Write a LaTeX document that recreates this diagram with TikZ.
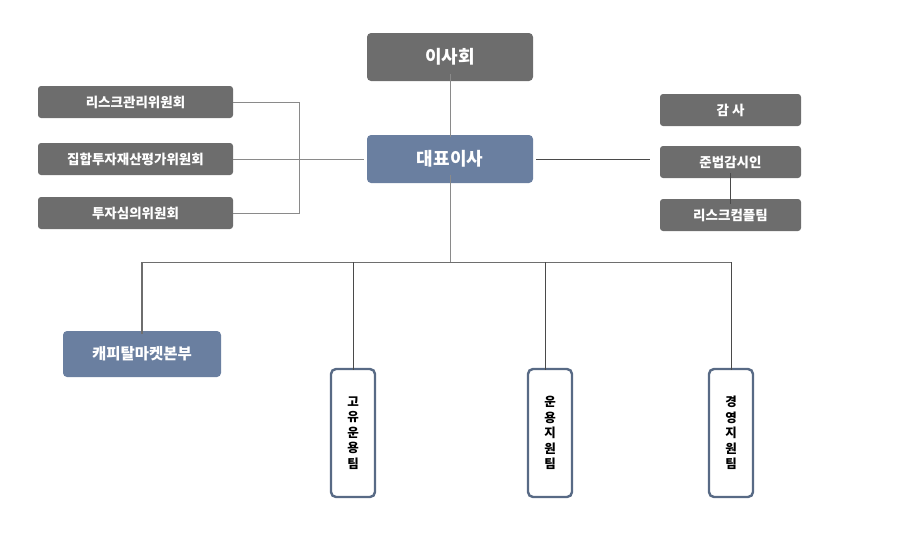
\documentclass[tikz,border=0pt]{standalone}
\usepackage{fontspec}
\setmainfont{Noto Sans CJK KR}
\begin{document}
\begin{tikzpicture}[x=1pt,y=-1pt,
  graybox/.style={draw=none,fill=boxgray,rounded corners=3pt,text=white,font=\bfseries\fontsize{13.5}{15}\selectfont,inner sep=0pt},
  bluebox/.style={draw=none,fill=boxblue,rounded corners=4pt,text=white,font=\bfseries\fontsize{18}{20}\selectfont,inner sep=0pt},
  tallbox/.style={draw=tallblue,line width=2.4pt,fill=white,rounded corners=5pt,text=black,font=\bfseries\fontsize{12.5}{15.5}\selectfont,align=center,inner sep=0pt},
  conn/.style={draw=linegray,line width=0.9pt},
  darkconn/.style={draw=linedark,line width=1pt}]
\definecolor{boxgray}{HTML}{6D6D6D}
\definecolor{boxblue}{HTML}{6A7FA0}
\definecolor{tallblue}{HTML}{586A85}
\definecolor{linegray}{HTML}{8A8A8A}
\definecolor{linedark}{HTML}{4A4A4A}
\useasboundingbox (0,0) rectangle (906,536);
% top
\node[bluebox,fill=boxgray,minimum width=166pt,minimum height=48pt] (board) at (450,57) {이사회};
\node[bluebox,minimum width=166pt,minimum height=48pt] (ceo) at (450,159) {대표이사};
% left committees
\node[graybox,minimum width=195pt,minimum height=32pt] (c1) at (135.5,102) {리스크관리위원회};
\node[graybox,minimum width=195pt,minimum height=32pt] (c2) at (135.5,159) {집합투자재산평가위원회};
\node[graybox,minimum width=195pt,minimum height=32pt] (c3) at (135.5,213) {투자심의위원회};
% right
\node[graybox,minimum width=141pt,minimum height=32pt] (audit) at (730.5,110) {감 사};
\node[graybox,minimum width=141pt,minimum height=32pt] (comp) at (730.5,162) {준법감시인};
\node[graybox,minimum width=141pt,minimum height=32pt] (risk) at (730.5,215) {리스크컴플팀};
% bottom
\node[bluebox,font=\bfseries\fontsize{15.5}{17}\selectfont,minimum width=158pt,minimum height=46pt] (cap) at (142,354) {캐피탈마켓본부};
\node[tallbox,minimum width=44pt,minimum height=128pt] (t1) at (353,433) {고\\유\\운\\용\\팀};
\node[tallbox,minimum width=44pt,minimum height=128pt] (t2) at (550,433) {운\\용\\지\\원\\팀};
\node[tallbox,minimum width=44pt,minimum height=128pt] (t3) at (731,433) {경\\영\\지\\원\\팀};
% coordinates
\coordinate (bk) at (299,159);
\coordinate (bus) at (450,262);
% connectors
\draw[conn] ([yshift=7pt]board.south) -- ([yshift=-2pt]ceo.north);
\draw[conn] (c1.east) -- (c1.east -| bk) -- (c3.east -| bk) -- (c3.east);
\draw[conn] (c2.east) -- ([xshift=-3pt]ceo.west);
\draw[linedark,line width=1pt] ([xshift=3pt]ceo.east) -- ([xshift=-10pt]comp.west |- ceo.east);
\draw[linedark,line width=1pt] ([yshift=5pt]comp.south) -- ([yshift=-5pt]risk.north);
\draw[conn] ([yshift=8pt]ceo.south) -- (bus);
\draw[darkconn,draw=linegray!80!black] (cap.north |- bus) -- (t3.north |- bus);
\draw[draw=linegray!80!black,line width=1.6pt] (cap.north |- bus) -- ([yshift=-3pt]cap.north);
\draw[linedark,line width=0.8pt] (t1.north |- bus) -- ([yshift=-2pt]t1.north);
\draw[linedark,line width=0.8pt] ([xshift=-5pt]t2.north |- bus) -- ([xshift=-5pt,yshift=-2pt]t2.north);
\draw[linedark,line width=0.8pt] (t3.north |- bus) -- ([yshift=-2pt]t3.north);
\end{tikzpicture}
\end{document}
